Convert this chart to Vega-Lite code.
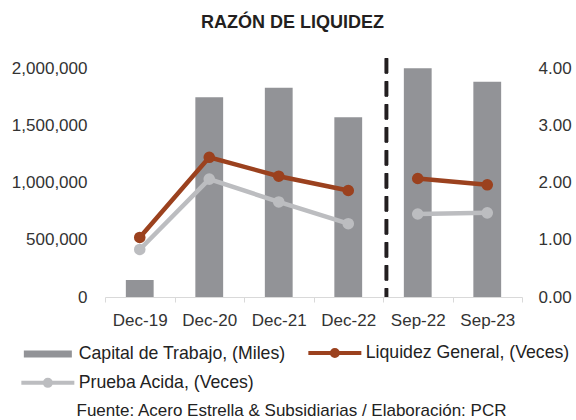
{
  "$schema": "https://vega.github.io/schema/vega-lite/v6.json",
  "width": 417,
  "height": 229,
  "autosize": {"type": "none"},
  "padding": {"left": 105, "top": 68, "right": 54, "bottom": 123},
  "background": "white",
  "config": {
    "font": "Liberation Sans",
    "view": {"stroke": null},
    "axis": {"labelFont": "Liberation Sans", "labelColor": "#333333", "labelFontSize": 17, "grid": false}
  },
  "title": {
    "text": "RAZÓN DE LIQUIDEZ",
    "fontSize": 18,
    "fontWeight": "bold",
    "color": "#231f20",
    "anchor": "middle",
    "dx": -21,
    "dy": 19,
    "baseline": "alphabetic",
    "offset": 30
  },
  "data": {
    "values": [
      {"periodo": "Dec-19", "capital": 148000, "liquidez": 1.04, "prueba": 0.83, "tramo": "A"},
      {"periodo": "Dec-20", "capital": 1744000, "liquidez": 2.44, "prueba": 2.06, "tramo": "A"},
      {"periodo": "Dec-21", "capital": 1828000, "liquidez": 2.11, "prueba": 1.66, "tramo": "A"},
      {"periodo": "Dec-22", "capital": 1569000, "liquidez": 1.86, "prueba": 1.28, "tramo": "A"},
      {"periodo": "Sep-22", "capital": 1997000, "liquidez": 2.07, "prueba": 1.45, "tramo": "B"},
      {"periodo": "Sep-23", "capital": 1880000, "liquidez": 1.96, "prueba": 1.47, "tramo": "B"}
    ]
  },
  "layer": [
    {
      "mark": {"type": "bar", "width": {"band": 0.4}},
      "encoding": {
        "x": {
          "field": "periodo",
          "type": "nominal",
          "sort": null,
          "scale": {"domain": ["Dec-19", "Dec-20", "Dec-21", "Dec-22", "Sep-22", "Sep-23"], "paddingInner": 0, "paddingOuter": 0},
          "axis": {
            "labelAngle": 0,
            "domainColor": "#d9d9d9",
            "domainWidth": 1,
            "tickColor": "#d9d9d9",
            "tickBand": "extent",
            "tickSize": 5,
            "labelPadding": 10,
            "title": "Fuente: Acero Estrella & Subsidiarias / Elaboración: PCR",
            "titleFontSize": 17,
            "titleFontWeight": "normal",
            "titleColor": "#222222",
            "titleX": 186,
            "titleY": 118,
            "titleAlign": "center",
            "titleBaseline": "alphabetic"
          }
        },
        "y": {
          "field": "capital",
          "type": "quantitative",
          "scale": {"domain": [0, 2000000], "nice": false},
          "axis": {
            "title": null,
            "values": [0, 500000, 1000000, 1500000, 2000000],
            "format": ",.0f",
            "domain": false,
            "ticks": false,
            "labelPadding": 18
          }
        },
        "color": {
          "datum": "Capital de Trabajo, (Miles)",
          "type": "nominal",
          "scale": {
            "domain": ["Capital de Trabajo, (Miles)", "Liquidez General, (Veces)", "Prueba Acida, (Veces)"],
            "range": ["#929397", "#9b411e", "#bcbdc0"]
          },
          "legend": {
            "orient": "none",
            "legendX": -66,
            "legendY": 276,
            "direction": "horizontal",
            "columns": 2,
            "title": null,
            "symbolSize": 100,
            "labelFontSize": 17.7,
            "labelColor": "#222222",
            "labelOffset": 22,
            "labelLimit": 400,
            "columnPadding": 14,
            "rowPadding": 7,
            "encode": {
              "symbols": {
                "update": {
                  "shape": {"signal": "datum.value == 'Capital de Trabajo, (Miles)' ? 'M-4.8,-0.7H4.8V0.7H-4.8Z' : 'M-5.3,0H5.3M0.6,0A0.6,0.6,0,1,1,-0.6,0A0.6,0.6,0,1,1,0.6,0Z'"},
                  "fill": {"signal": "scale('color', datum.value)"},
                  "stroke": {"signal": "scale('color', datum.value)"},
                  "strokeWidth": {"signal": "datum.value == 'Capital de Trabajo, (Miles)' ? 0 : 4"},
                  "opacity": {"value": 1},
                  "fillOpacity": {"value": 1},
                  "strokeOpacity": {"value": 1}
                }
              }
            }
          }
        }
      }
    },
    {
      "layer": [
        {
          "mark": {"type": "line", "strokeWidth": 4.5},
          "encoding": {
            "x": {"field": "periodo", "type": "nominal", "sort": null},
            "y": {"field": "prueba", "type": "quantitative"},
            "detail": {"field": "tramo"},
            "color": {"datum": "Prueba Acida, (Veces)", "type": "nominal"}
          }
        },
        {
          "mark": {"type": "point", "filled": true, "size": 135, "opacity": 1},
          "encoding": {
            "x": {"field": "periodo", "type": "nominal", "sort": null},
            "y": {"field": "prueba", "type": "quantitative"},
            "color": {"datum": "Prueba Acida, (Veces)", "type": "nominal"}
          }
        },
        {
          "mark": {"type": "line", "strokeWidth": 4.5},
          "encoding": {
            "x": {"field": "periodo", "type": "nominal", "sort": null},
            "y": {"field": "liquidez", "type": "quantitative"},
            "detail": {"field": "tramo"},
            "color": {"datum": "Liquidez General, (Veces)", "type": "nominal"}
          }
        },
        {
          "mark": {"type": "point", "filled": true, "size": 135, "opacity": 1},
          "encoding": {
            "x": {"field": "periodo", "type": "nominal", "sort": null},
            "y": {
              "field": "liquidez",
              "type": "quantitative",
              "scale": {"domain": [0, 4], "nice": false},
              "axis": {
                "orient": "right",
                "title": null,
                "values": [0, 1, 2, 3, 4],
                "format": ".2f",
                "domain": false,
                "ticks": false,
                "labelPadding": 16
              }
            },
            "color": {"datum": "Liquidez General, (Veces)", "type": "nominal"}
          }
        },
        {
          "mark": {"type": "rule", "color": "#231f20", "strokeWidth": 3.2, "strokeDash": [15, 8]},
          "encoding": {
            "x": {"datum": "Sep-22", "type": "nominal", "bandPosition": 0.05},
            "y": {"datum": 4.17, "type": "quantitative"},
            "y2": {"datum": 0}
          }
        }
      ]
    }
  ],
  "resolve": {"scale": {"y": "independent"}}
}
